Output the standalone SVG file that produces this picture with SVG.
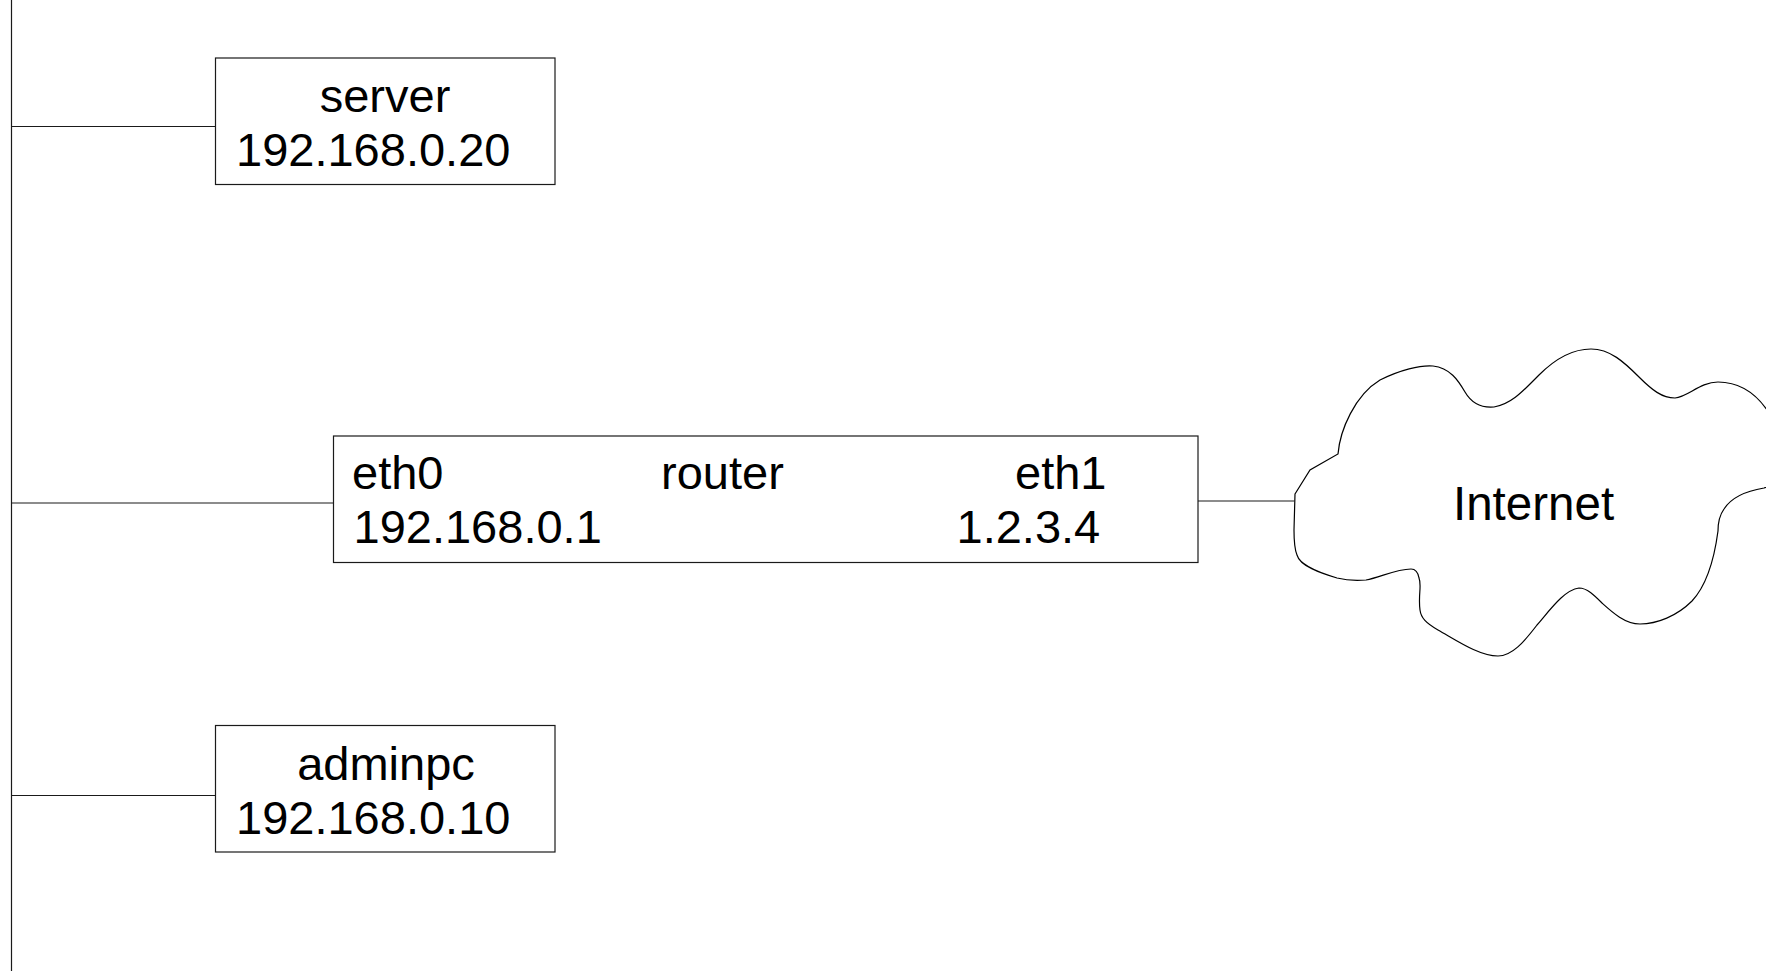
<svg xmlns="http://www.w3.org/2000/svg" width="1766" height="971" viewBox="0 0 1766 971">
  <style>
    .box { fill: #ffffff; stroke: #1a1a1a; stroke-width: 1.2; }
    .wire { fill: none; stroke: #1a1a1a; stroke-width: 1.2; }
    .cloud { fill: #ffffff; stroke: #000000; stroke-width: 1.2; }
    .lbl { font-family: "Liberation Sans", Arial, sans-serif; font-size: 47px; fill: #000000; }
    .mid { text-anchor: middle; }
  </style>
  <rect x="0" y="0" width="1766" height="971" fill="#ffffff"/>

  <!-- LAN bus and links -->
  <g id="connectors">
    <line class="wire" x1="11.5" y1="0" x2="11.5" y2="971"/>
    <line class="wire" x1="11.5" y1="126.5" x2="215.5" y2="126.5"/>
    <line class="wire" x1="11.5" y1="503" x2="333.5" y2="503"/>
    <line class="wire" x1="11.5" y1="795.5" x2="215.5" y2="795.5"/>
    <line class="wire" x1="1198" y1="501" x2="1294.5" y2="501"/>
  </g>

  <g id="server">
    <rect class="box" x="215.5" y="58" width="339.5" height="126.5"/>
    <text class="lbl mid" x="385" y="112">server</text>
    <text class="lbl" x="236" y="166">192.168.0.20</text>
  </g>

  <g id="router">
    <rect class="box" x="333.5" y="436" width="864.5" height="126.5"/>
    <text class="lbl" x="352" y="489">eth0</text>
    <text class="lbl" x="353.5" y="543">192.168.0.1</text>
    <text class="lbl" x="661" y="489">router</text>
    <text class="lbl" x="1015" y="489">eth1</text>
    <text class="lbl" x="956.5" y="543">1.2.3.4</text>
  </g>

  <g id="adminpc">
    <rect class="box" x="215.5" y="725.5" width="339.5" height="126.5"/>
    <text class="lbl mid" x="386" y="780">adminpc</text>
    <text class="lbl" x="236" y="833.5">192.168.0.10</text>
  </g>

  <g id="internet">
    <path class="cloud" d="M1295,494 L1310,470 L1338,454
      C1340,430 1355,395 1380,380
      C1400,370 1420,365 1433,366
      C1450,368 1458,380 1465,392
      C1472,404 1482,408 1494,407
      C1512,404 1524,390 1539,375
      C1556,358 1572,349 1591,349
      C1610,349 1624,362 1639,377
      C1652,390 1662,398 1675,398
      C1688,397 1700,382 1718,382
      C1748,382 1766,405 1776,425
      C1790,455 1785,482 1764,488
      C1746,491 1731,498 1724,509
      C1719,516 1718,523 1718,531
      C1714,561 1706,586 1692,601
      C1677,616 1657,624 1640,624
      C1625,624 1612,612 1602,603
      C1594,595 1587,588 1579,588
      C1564,590 1550,610 1537,625
      C1524,642 1512,656 1498,656
      C1479,656 1456,640 1438,630
      C1426,623 1421,618 1420,610
      C1418,595 1422,585 1419,578
      C1418,572 1415,569 1411,569
      C1396,569 1381,577 1366,580
      C1355,581 1345,580 1337,578
      C1320,573 1300,566 1297,555
      C1294,548 1294,540 1294,530 Z"/>
    <text class="lbl" x="1453" y="519.5" style="font-size:47.5px">Internet</text>
  </g>
</svg>
